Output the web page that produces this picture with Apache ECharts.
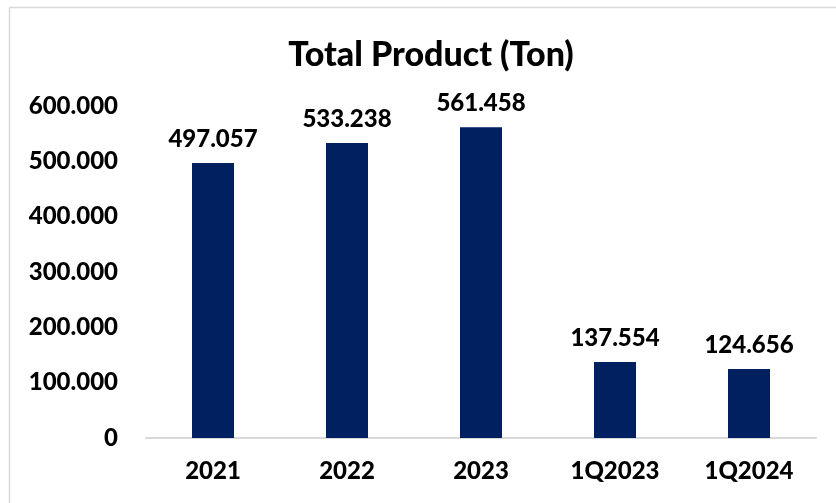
<!DOCTYPE html>
<html>
<head>
<meta charset="utf-8">
<script src="https://cdn.jsdelivr.net/npm/echarts@6/dist/echarts.min.js"></script>
<style>
  html, body { margin: 0; padding: 0; background: #fff; }
  #chart { width: 836px; height: 503px; }
</style>
</head>
<body>
<div id="chart"></div>
<script>
// 数据
const categories = ['2021', '2022', '2023', '1Q2023', '1Q2024'];
const productTon = [497057, 533238, 561458, 137554, 124656];
const yTicks = [0, 100000, 200000, 300000, 400000, 500000, 600000];

const FONT = 'Lato, "Open Sans", sans-serif';
const WEIGHT = 900;

// 千位分隔符用点号
function fmt(v) {
    if (v === 0) return '0';
    return String(Math.round(v)).replace(/\B(?=(\d{3})+(?!\d))/g, '.');
}

const myChart = echarts.init(document.getElementById('chart'), null, { renderer: 'canvas' });
const option = {
    backgroundColor: '#fff',
    animation: false,
    title: {
        text: 'Total Product (Ton)',
        left: 426,
        textAlign: 'center',
        top: 33,
        textStyle: { fontFamily: FONT, fontSize: 34, fontWeight: WEIGHT, color: '#000' }
    },
    grid: { left: 146, right: 20, top: 106, bottom: 65, containLabel: false },
    xAxis: {
        type: 'category',
        data: categories,
        axisLine: { lineStyle: { color: '#d9d9d9', width: 2 } },
        axisTick: { show: false },
        axisLabel: {
            margin: 21,
            fontFamily: FONT, fontSize: 24, fontWeight: WEIGHT, color: '#000'
        }
    },
    yAxis: {
        type: 'value',
        min: yTicks[0],
        max: yTicks[yTicks.length - 1],
        interval: yTicks[1] - yTicks[0],
        splitLine: { show: false },
        axisLine: { show: false },
        axisTick: { show: false },
        axisLabel: {
            margin: 28,
            formatter: fmt,
            fontFamily: FONT, fontSize: 24, fontWeight: WEIGHT, color: '#000'
        }
    },
    series: [{
        type: 'bar',
        data: productTon,
        barWidth: 42,
        itemStyle: { color: '#002060' },
        label: {
            show: true,
            position: 'top',
            distance: 12,
            formatter: (p) => fmt(p.value),
            fontFamily: FONT, fontSize: 24, fontWeight: WEIGHT, color: '#000'
        }
    }],
    graphic: [
        { type: 'line', shape: { x1: 9.5, y1: 7.5, x2: 836, y2: 7.5 }, style: { stroke: '#d9d9d9', lineWidth: 1.5 } },
        { type: 'line', shape: { x1: 9.5, y1: 7.5, x2: 9.5, y2: 503 }, style: { stroke: '#d9d9d9', lineWidth: 1.5 } }
    ]
};
myChart.setOption(option, true);
</script>
</body>
</html>
